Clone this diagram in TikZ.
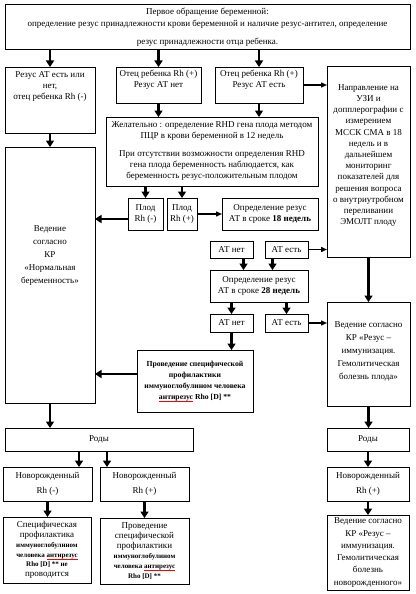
\documentclass[tikz,border=0pt]{standalone}
\usepackage{fontspec}
\setmainfont{Liberation Serif}
\usetikzlibrary{arrows.meta}
\newcommand\smb{\fontsize{7}{10}\selectfont\bfseries}
\newcommand\squig[1]{\setbox0=\hbox{#1}\rlap{\raisebox{-2.2pt}{{\color{red}\rule{\wd0}{0.6pt}}}}#1}
\newcommand\mybox[8][]{%
  \pgfmathsetmacro\bxw{#5-#3}%
  \pgfmathsetmacro\bxh{#6-#4}%
  \pgfmathsetmacro\bxcx{(#3+#5)/2}%
  \pgfmathsetmacro\bxcy{(#4+#6)/2}%
  \pgfmathsetmacro\bxty{(#4+#6)/2+(#7)}%
  \node[box,minimum width=\bxw pt,minimum height=\bxh pt] (#2) at (\bxcx,\bxcy) {};%
  \node[txt,#1] (#2-t) at (\bxcx,\bxty) {#8};%
}
\begin{document}
\begin{tikzpicture}[x=1pt,y=-1pt,
  box/.style={draw,line width=0.8pt,inner sep=0pt,outer sep=0pt},
  txt/.style={align=center,inner sep=0pt,font=\fontsize{9}{11}\selectfont},
  arr/.style={line width=2.6pt,-{Triangle[width=8pt,length=6.5pt]}},
  tarr/.style={line width=1.4pt,-{Triangle[width=5pt,length=6pt]}}]
\useasboundingbox (0,0) rectangle (415,594);

\mybox{top}{5}{4}{410}{49}{1}{Первое обращение беременной:\\[1pt] определение резус принадлежности крови беременной и наличие резус-антител, определение\\[7pt] резус принадлежности отца ребенка.}
\mybox{A}{5}{67}{95}{133}{-14}{Резус АТ есть или\\ нет,\\ отец ребенка Rh (-)}
\mybox{B}{116}{67}{201}{103}{-5}{Отец ребенка Rh (+)\\ Резус АТ нет}
\mybox{C}{215}{67}{303}{103}{-5}{Отец ребенка Rh (+)\\ Резус АТ есть}
\mybox[font=\fontsize{9}{11.2}\selectfont]{D}{327}{66}{410}{257}{-6}{Направление на\\ УЗИ и\\ допплерографии с\\ измерением\\ МССК СМА в 18\\ недель и в\\ дальнейшем\\ мониторинг\\ показателей для\\ решения вопроса\\ о внутриутробном\\ переливании\\ ЭМОЛТ плоду}
\mybox{E}{106}{117}{318}{186}{0}{Желательно : определение RHD гена плода методом\\ ПЦР в крови беременной в 12 недель\\[7pt] При отсутствии возможности определения RHD\\ гена плода беременность наблюдается, как\\ беременность резус-положительным плодом}
\mybox[font=\fontsize{9}{13}\selectfont]{F}{5}{147}{95}{403}{-19}{Ведение\\ согласно\\ КР\\ «Нормальная\\ беременность»}
\mybox{Pm}{128}{198}{163}{230}{0}{Плод\\ Rh (-)}
\mybox{Pp}{167}{198}{197}{230}{0}{Плод\\ Rh (+)}
\mybox{O18}{222}{198}{318}{230}{0}{Определение резус\\ АТ в сроке \textbf{18 недель}}
\mybox{N1}{210}{241}{253}{258}{0}{АТ нет}
\mybox{Y1}{265}{241}{308}{258}{0}{АТ есть}
\mybox{O28}{210}{270}{308}{302}{0}{Определение резус\\ АТ в сроке \textbf{28 недель}}
\mybox{N2}{210}{314}{253}{332}{0}{АТ нет}
\mybox{Y2}{265}{314}{308}{332}{0}{АТ есть}
\mybox[font=\fontsize{9}{13}\selectfont]{G}{327}{302}{410}{406}{-3}{Ведение согласно\\ КР «Резус –\\ иммунизация.\\ Гемолитическая\\ болезнь плода»}
\mybox[font=\fontsize{7.7}{11}\selectfont\bfseries]{H}{137}{350}{253}{412}{0}{Проведение специфической\\ профилактики\\ иммуноглобулином человека\\ \squig{антирезус} Rho [D] **}
\mybox{RL}{5}{428}{193}{451}{0}{Роды}
\mybox{RR}{327}{428}{409}{451}{0}{Роды}
\mybox[font=\fontsize{9}{15}\selectfont]{NLm}{3}{467}{92}{501}{0}{Новорожденный\\ Rh (-)}
\mybox[font=\fontsize{9}{15}\selectfont]{NLp}{100}{467}{189}{501}{0}{Новорожденный\\ Rh (+)}
\mybox[font=\fontsize{9}{15}\selectfont]{NR}{327}{467}{409}{501}{0}{Новорожденный\\ Rh (+)}
\mybox[font=\fontsize{9}{9.8}\selectfont]{SL}{3}{517}{91}{583}{0}{Специфическая\\ профилактика\\ {\smb иммуноглобулином}\\ {\smb человека \squig{антирезус}}\\ {\smb Rho [D] ** не}\\ проводится}
\mybox[font=\fontsize{9}{10}\selectfont]{SR}{100}{518}{189}{584}{0}{Проведение\\ специфической\\ профилактики\\ {\smb иммуноглобулином}\\ {\smb человека \squig{антирезус}}\\ {\smb Rho [D] **}}
\mybox[font=\fontsize{9}{12.3}\selectfont]{VR}{327}{515}{409}{590}{0}{Ведение согласно\\ КР «Резус –\\ иммунизация.\\ Гемолитическая\\ болезнь\\ новорожденного»}

% arrows
\draw[arr] (A.north |- top.south) -- (A.north);
\draw[arr] (B.north |- top.south) -- (B.north);
\draw[arr] (C.north |- top.south) -- (C.north);
\draw[tarr] (C.east) -- (C.east -| D.west);
\draw[arr] (A.south) -- (F.north);
\draw[arr] (B.south) -- (B.south |- E.north);
\draw[arr] (C.south) -- (C.south |- E.north);
\draw[arr] (Pm.north |- E.south) -- (Pm.north);
\draw[arr] (Pp.north |- E.south) -- (Pp.north);
\draw[arr] ([yshift=-5pt]Pm.west) -- ([yshift=-5pt]Pm.west -| F.east);
\draw[tarr] (Pp.east) -- (O18.west);
\coordinate (n1a) at ([xshift=12pt]N1.south);
\coordinate (y1a) at ([xshift=-14pt]Y1.south);
\draw[arr] (n1a) -- (n1a |- O28.north);
\draw[arr] (y1a) -- (y1a |- O28.north);
\draw[tarr] (Y1.east) -- (Y1.east -| D.west);
\draw[arr] (N2.north |- O28.south) -- (N2.north);
\draw[arr] (Y2.north |- O28.south) -- (Y2.north);
\draw[tarr] (Y2.east) -- (Y2.east -| G.west);
\draw[arr] (D.south) -- (G.north);
\draw[arr] (N2.south) -- (N2.south |- H.north);
\draw[arr] ([yshift=7pt]H.west) -- ([yshift=7pt]H.west -| F.east);
\draw[arr] (F.south) -- (F.south |- RL.north);
\draw[arr] (G.south) -- (G.south |- RR.north);
\coordinate (rl1) at ([xshift=-13pt]NLm.north east);
\coordinate (rl2) at ([xshift=7pt]NLp.north west);
\draw[arr] (rl1 |- RL.south) -- (rl1);
\draw[arr] (rl2 |- RL.south) -- (rl2);
\draw[arr] (NLm.south) -- (NLm.south |- SL.north);
\draw[arr] (NLp.south) -- (NLp.south |- SR.north);
\draw[arr] (RR.south) -- (NR.north);
\draw[arr] (NR.south) -- (VR.north);
\end{tikzpicture}
\end{document}
